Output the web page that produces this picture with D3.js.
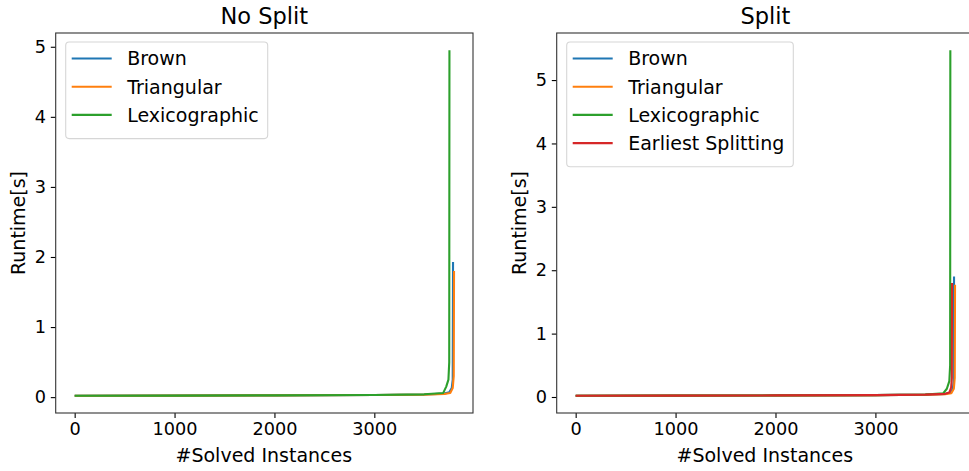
<html>
<head>
  <script src="https://d3js.org/d3.v7.min.js" charset="utf-8"></script>
  <title>Runtime</title>
  <style>
    * { margin: 0; padding: 0; }
    body { background: white; font-family: "DejaVu Sans", sans-serif; }
    svg text { font-family: "DejaVu Sans", sans-serif; fill: #000; }
  </style>
</head>
<body>
<div id="graph"></div>
<script>
  // values (instances solved vs runtime in seconds)
  var noSplitBrownX = [0, 1000, 2000, 3000, 3500, 3700, 3750, 3775, 3785, 3788];
  var noSplitBrownY = [0.02, 0.022, 0.025, 0.03, 0.038, 0.05, 0.07, 0.13, 0.25, 1.93];
  var noSplitTriX = [0, 1000, 2000, 3000, 3500, 3700, 3760, 3785, 3795, 3798];
  var noSplitTriY = [0.02, 0.022, 0.025, 0.03, 0.036, 0.045, 0.06, 0.13, 0.3, 1.8];
  var noSplitLexX = [0, 1000, 2000, 3000, 3500, 3690, 3720, 3742, 3750, 3752];
  var noSplitLexY = [0.02, 0.022, 0.025, 0.03, 0.04, 0.06, 0.15, 0.25, 0.5, 4.95];

  var splitBrownX = [0, 1000, 2000, 3000, 3500, 3700, 3750, 3775, 3784, 3787];
  var splitBrownY = [0.02, 0.022, 0.025, 0.03, 0.038, 0.05, 0.07, 0.13, 0.25, 1.9];
  var splitTriX = [0, 1000, 2000, 3000, 3500, 3700, 3760, 3785, 3794, 3797];
  var splitTriY = [0.02, 0.022, 0.025, 0.03, 0.036, 0.045, 0.06, 0.13, 0.3, 1.77];
  var splitLexX = [0, 1000, 2000, 3000, 3500, 3680, 3715, 3740, 3748, 3750];
  var splitLexY = [0.02, 0.022, 0.025, 0.03, 0.04, 0.06, 0.13, 0.25, 0.5, 5.47];
  var splitEarlyX = [0, 1000, 2000, 3000, 3500, 3700, 3740, 3758, 3765, 3767];
  var splitEarlyY = [0.02, 0.022, 0.025, 0.03, 0.038, 0.05, 0.07, 0.15, 0.3, 1.8];

  var xTicks = [0, 1000, 2000, 3000];
  var yTicks = [0, 1, 2, 3, 4, 5];

  var colors = ["#1f77b4", "#ff7f0e", "#2ca02c", "#d62728"];

  var panels = [
    { title: "No Split", left: 55.7,
      series: [
        { name: "Brown", xs: noSplitBrownX, ys: noSplitBrownY },
        { name: "Triangular", xs: noSplitTriX, ys: noSplitTriY },
        { name: "Lexicographic", xs: noSplitLexX, ys: noSplitLexY }
      ], legendW: 202 },
    { title: "Split", left: 556.7,
      series: [
        { name: "Brown", xs: splitBrownX, ys: splitBrownY },
        { name: "Triangular", xs: splitTriX, ys: splitTriY },
        { name: "Lexicographic", xs: splitLexX, ys: splitLexY },
        { name: "Earliest Splitting", xs: splitEarlyX, ys: splitEarlyY }
      ], legendW: 226.6 }
  ];

  var w = 969, h = 471;
  var axTop = 33, axBottom = 413, axW = 417.3;

  var svg = d3.select("#graph").append("svg")
    .attr("width", w).attr("height", h);

  function padded(lo, hi) {
    var m = (hi - lo) * 0.05;
    return [lo - m, hi + m];
  }

  panels.forEach(function(p) {
    var allX = [], allY = [];
    p.series.forEach(function(s) { allX = allX.concat(s.xs); allY = allY.concat(s.ys); });

    var x = d3.scaleLinear().domain(padded(d3.min(allX), d3.max(allX))).range([p.left, p.left + axW]);
    var y = d3.scaleLinear().domain(padded(d3.min(allY), d3.max(allY))).range([axBottom, axTop]);

    var g = svg.append("g");

    // lines
    var line = d3.line().x(function(d) { return x(d[0]); }).y(function(d) { return y(d[1]); });
    p.series.forEach(function(s, i) {
      g.append("path")
        .datum(d3.zip(s.xs, s.ys))
        .attr("d", line)
        .attr("fill", "none")
        .attr("stroke", colors[i])
        .attr("stroke-width", 2.1)
        .attr("stroke-linejoin", "round");
    });

    // axes
    var xAxis = d3.axisBottom(x).tickValues(xTicks).tickSize(4.9).tickPadding(4.9).tickFormat(d3.format("d"));
    var yAxis = d3.axisLeft(y).tickValues(yTicks).tickSize(4.9).tickPadding(4.9).tickFormat(d3.format("d"));

    var gx = g.append("g").attr("transform", "translate(0," + axBottom + ")").call(xAxis);
    var gy = g.append("g").attr("transform", "translate(" + p.left + ",0)").call(yAxis);
    [gx, gy].forEach(function(a) {
      a.attr("font-family", null);
      a.select(".domain").remove();
      a.selectAll(".tick line").attr("stroke", "#000").attr("stroke-width", 1.1);
      a.selectAll(".tick text").attr("font-size", 17.7).attr("fill", "#222");
    });

    // frame
    g.append("rect")
      .attr("x", p.left).attr("y", axTop)
      .attr("width", axW).attr("height", axBottom - axTop)
      .attr("fill", "none").attr("stroke", "#333").attr("stroke-width", 1.1);

    // title and labels
    g.append("text").attr("x", p.left + axW / 2).attr("y", 24)
      .attr("text-anchor", "middle").attr("font-size", 22.5).text(p.title);
    g.append("text").attr("x", p.left + axW / 2 - 0.5).attr("y", 462)
      .attr("text-anchor", "middle").attr("font-size", 19).attr("fill", "#222").text("#Solved Instances");
    g.append("text")
      .attr("transform", "translate(" + (p.left - 31) + "," + ((axTop + axBottom) / 2) + ") rotate(-90)")
      .attr("text-anchor", "middle").attr("font-size", 19).attr("fill", "#222").text("Runtime[s]");

    // legend
    var lx = p.left + 10, ly = axTop + 9;
    var lg = g.append("g");
    lg.append("rect")
      .attr("x", lx).attr("y", ly)
      .attr("width", p.legendW).attr("height", 14 + p.series.length * 28.2 - 2)
      .attr("rx", 3.5)
      .attr("fill", "white").attr("fill-opacity", 0.8)
      .attr("stroke", "#d6d6d6").attr("stroke-width", 1.1);
    p.series.forEach(function(s, i) {
      var yy = ly + 16.5 + i * 28.2;
      lg.append("line")
        .attr("x1", lx + 6).attr("x2", lx + 46)
        .attr("y1", yy).attr("y2", yy)
        .attr("stroke", colors[i]).attr("stroke-width", 2.1);
      lg.append("text")
        .attr("x", lx + 61.5).attr("y", yy)
        .attr("dy", "0.36em")
        .attr("font-size", 19).attr("fill", "#222").text(s.name);
    });
  });
</script>
</body>
</html>
